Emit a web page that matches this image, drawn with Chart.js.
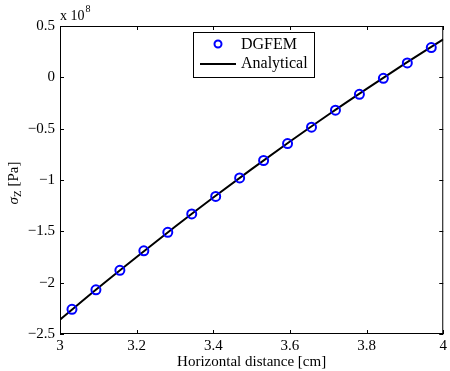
<!DOCTYPE html>
<html>
<head>
<meta charset="utf-8">
<script src="https://cdn.jsdelivr.net/npm/chart.js@4"></script>
<style>
  html, body { margin: 0; padding: 0; background: #fff; }
  #wrap { width: 450px; height: 371px; }
</style>
</head>
<body>
<div id="wrap"><canvas id="stress"></canvas></div>
<script>
// DGFEM sample positions [cm] and stress [x 1e8 Pa]
var dgX = [3.03125, 3.09375, 3.15625, 3.21875, 3.28125, 3.34375, 3.40625, 3.46875,
           3.53125, 3.59375, 3.65625, 3.71875, 3.78125, 3.84375, 3.90625, 3.96875];
var dgY = [-2.26, -2.07, -1.88, -1.69, -1.51, -1.33, -1.16, -0.98,
           -0.81, -0.645, -0.485, -0.32, -0.165, -0.01, 0.14, 0.29];

// analytical curve
var anX = [3.0, 3.1, 3.2, 3.3, 3.4, 3.5, 3.6, 3.7, 3.8, 3.9, 4.0];
var anY = [-2.36, -2.05, -1.75, -1.456, -1.171, -0.894, -0.625, -0.364, -0.112, 0.133, 0.37];

var xTicks = [3, 3.2, 3.4, 3.6, 3.8, 4];
var yTicks = [-2.5, -2, -1.5, -1, -0.5, 0, 0.5];

var serif = '"Liberation Serif", "Times New Roman", serif';

function pts(xs, ys) {
  return xs.map(function(x, i) { return { x: x, y: ys[i] }; });
}
function fmt(v) {
  var s = String(Math.round(v * 10) / 10);
  return s.replace('-', '\u2212');
}

// frame, inward ticks, legend, y title and exponent
var matlabLook = {
  id: 'matlabLook',
  afterDraw: function(chart) {
    var c = chart.ctx, a = chart.chartArea;
    var xs = chart.scales.x, ys = chart.scales.y;
    c.save();
    c.strokeStyle = '#000';
    c.lineWidth = 1;
    c.strokeRect(a.left + 0.5, a.top + 0.5, a.right - a.left - 1, a.bottom - a.top - 1);
    c.beginPath();
    xTicks.forEach(function(t) {
      var px = Math.round(xs.getPixelForValue(t)) + 0.5;
      c.moveTo(px, a.bottom); c.lineTo(px, a.bottom - 4);
      c.moveTo(px, a.top); c.lineTo(px, a.top + 4);
    });
    yTicks.forEach(function(t) {
      var py = Math.round(ys.getPixelForValue(t)) + 0.5;
      c.moveTo(a.left, py); c.lineTo(a.left + 4, py);
      c.moveTo(a.right, py); c.lineTo(a.right - 4, py);
    });
    c.stroke();

    // exponent
    c.fillStyle = '#000';
    c.textBaseline = 'alphabetic';
    c.textAlign = 'left';
    c.font = '14px ' + serif;
    c.fillText('x 10', 60, 20);
    var ew = c.measureText('x 10').width;
    c.font = '10px ' + serif;
    c.fillText('8', 60 + ew + 1, 12);

    // y title rotated
    c.save();
    c.translate(18, 183);
    c.rotate(-Math.PI / 2);
    c.textAlign = 'left';
    c.font = 'italic 15px ' + serif;
    var w1 = c.measureText('\u03c3').width;
    c.font = '11px ' + serif;
    var w2 = c.measureText('Z').width;
    c.font = '15px ' + serif;
    var w3 = c.measureText(' [Pa]').width;
    var x0 = -(w1 + w2 + w3) / 2;
    c.font = 'italic 15px ' + serif;
    c.fillText('\u03c3', x0, 0);
    c.font = '11px ' + serif;
    c.fillText('Z', x0 + w1, 3);
    c.font = '15px ' + serif;
    c.fillText(' [Pa]', x0 + w1 + w2, 0);
    c.restore();

    // legend
    c.fillStyle = '#fff';
    c.fillRect(193, 32, 121, 45);
    c.strokeRect(193.5, 32.5, 121, 45);
    var ds = chart.data.datasets;
    c.beginPath();
    c.strokeStyle = ds[0].borderColor;
    c.lineWidth = 2;
    c.arc(218, 44, 3.5, 0, Math.PI * 2);
    c.stroke();
    c.beginPath();
    c.strokeStyle = ds[1].borderColor;
    c.lineWidth = 2;
    c.moveTo(200, 64); c.lineTo(236, 64);
    c.stroke();
    c.fillStyle = '#000';
    c.font = '16px ' + serif;
    c.textBaseline = 'middle';
    c.fillText(ds[0].label, 241, 45);
    c.fillText(ds[1].label, 241, 64);
    c.restore();
  }
};

var ctx = document.getElementById('stress').getContext('2d');
var stressChart = new Chart(ctx, {
  type: 'scatter',
  data: {
    datasets: [{
      label: 'DGFEM',
      data: pts(dgX, dgY),
      showLine: false,
      pointStyle: 'circle',
      pointRadius: 4.5,
      pointBorderWidth: 2,
      borderColor: 'rgb(0,0,255)',
      backgroundColor: 'rgba(0,0,0,0)',
      order: 0
    }, {
      label: 'Analytical',
      data: pts(anX, anY),
      showLine: true,
      borderColor: '#000',
      borderWidth: 2,
      pointRadius: 0,
      cubicInterpolationMode: 'monotone',
      order: 1
    }]
  },
  options: {
    responsive: true,
    maintainAspectRatio: false,
    animation: false,
    layout: { padding: { top: 26, right: 3, left: 0, bottom: 0 } },
    plugins: { legend: { display: false }, tooltip: { enabled: false } },
    scales: {
      x: {
        type: 'linear',
        min: 3, max: 4,
        afterBuildTicks: function(s) { s.ticks = xTicks.map(function(v) { return { value: v }; }); },
        afterFit: function(s) { s.height = 37; },
        ticks: { color: '#000', font: { family: serif, size: 15 }, padding: 3, maxRotation: 0,
                 callback: function(v) { return fmt(v); } },
        grid: { display: false, drawTicks: false },
        border: { display: false },
        title: { display: true, text: 'Horizontal distance [cm]', color: '#000',
                 font: { family: serif, size: 15 }, padding: { top: 0, bottom: 0 } }
      },
      y: {
        type: 'linear',
        min: -2.5, max: 0.5,
        afterBuildTicks: function(s) { s.ticks = yTicks.map(function(v) { return { value: v }; }); },
        afterFit: function(s) { s.width = 60; },
        ticks: { color: '#000', font: { family: serif, size: 15 }, padding: 5,
                 callback: function(v) { return fmt(v); } },
        grid: { display: false, drawTicks: false },
        border: { display: false }
      }
    }
  },
  plugins: [matlabLook]
});
</script>
</body>
</html>
